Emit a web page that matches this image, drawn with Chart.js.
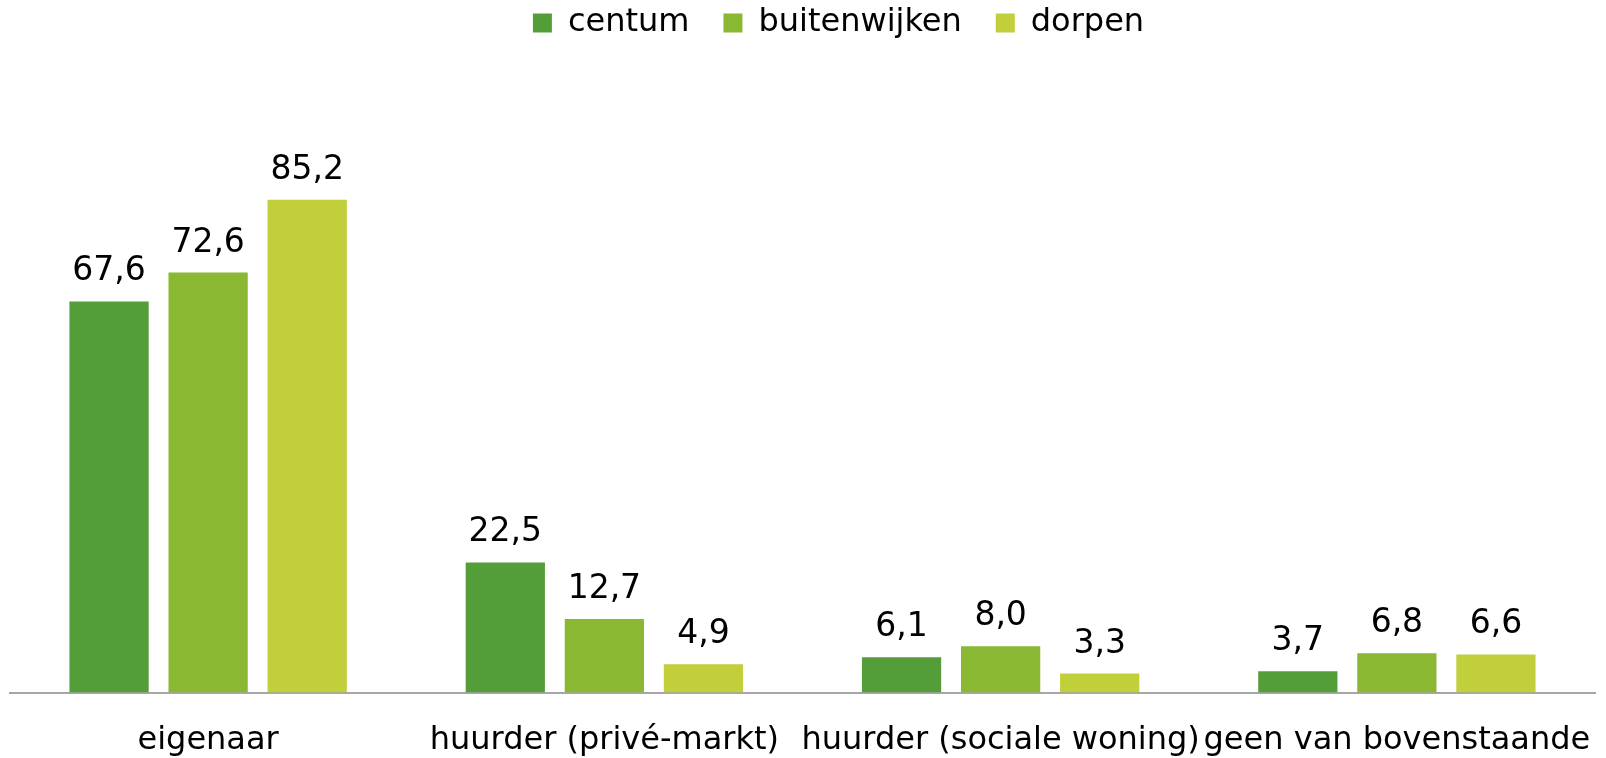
<!DOCTYPE html>
<html>
<head>
<meta charset="utf-8">
<script src="https://cdn.jsdelivr.net/npm/chart.js@4.4.0/dist/chart.umd.min.js"></script>
<style>
  html, body { margin: 0; padding: 0; background: #fff; overflow: hidden; }
  #wrap { position: absolute; left: 0; top: -27px; width: 1606px; height: 819px; }
</style>
</head>
<body>
<div id="wrap"><canvas id="grafiek"></canvas></div>
<script>
// categorieen en reeksen
const categorieen = ['eigenaar', 'huurder (privé-markt)', 'huurder (sociale woning)', 'geen van bovenstaande'];
const centum = [67.6, 22.5, 6.1, 3.7];
const buitenwijken = [72.6, 12.7, 8.0, 6.8];
const dorpen = [85.2, 4.9, 3.3, 6.6];

const lettertype = '"DejaVu Sans", sans-serif';

// waarden boven de staven tekenen (met komma)
const waardeLabels = {
    id: 'waardeLabels',
    afterDatasetsDraw(chart) {
        const ctx = chart.ctx;
        ctx.save();
        ctx.font = '33px ' + lettertype;
        ctx.fillStyle = '#000';
        ctx.textAlign = 'center';
        ctx.textBaseline = 'alphabetic';
        chart.data.datasets.forEach((ds, i) => {
            chart.getDatasetMeta(i).data.forEach((bar, j) => {
                ctx.fillText(ds.data[j].toFixed(1).replace('.', ','), bar.x, bar.y - 21);
            });
        });
        ctx.restore();
    }
};

// extra ruimte onder de legenda, en legenda iets naar rechts
const legendaRuimte = {
    id: 'legendaRuimte',
    beforeInit(chart) {
        const origFit = chart.legend.fit;
        chart.legend.fit = function () {
            origFit.call(this);
            this.height += 65;
        };
    },
    afterLayout(chart) {
        chart.legend.left += 36;
        chart.legend.right += 36;
    }
};

new Chart(document.getElementById('grafiek'), {
    type: 'bar',
    data: {
        labels: categorieen,
        datasets: [
            { label: 'centum', data: centum, backgroundColor: '#549e39' },
            { label: 'buitenwijken', data: buitenwijken, backgroundColor: '#8ab833' },
            { label: 'dorpen', data: dorpen, backgroundColor: '#c0cf3a' }
        ]
    },
    options: {
        responsive: true,
        maintainAspectRatio: false,
        animation: false,
        categoryPercentage: 0.75,
        barPercentage: 0.8,
        layout: { padding: { left: 10, right: 11, top: 0, bottom: 3 } },
        plugins: {
            tooltip: { enabled: false },
            legend: {
                position: 'top',
                labels: {
                    boxWidth: 19,
                    boxHeight: 19,
                    padding: 34,
                    color: '#000',
                    font: { family: lettertype, size: 32 }
                }
            }
        },
        scales: {
            x: {
                grid: { display: false, drawTicks: false },
                border: { display: true, color: '#a6a6a6', width: 2 },
                ticks: {
                    color: '#000',
                    padding: 29,
                    maxRotation: 0,
                    autoSkip: false,
                    font: { family: lettertype, size: 32 }
                },
                // labels mogen tot de rand lopen
                afterFit(scale) {
                    scale.paddingLeft = 0;
                    scale.paddingRight = 0;
                }
            },
            y: {
                display: false,
                min: 0,
                max: 100
            }
        }
    },
    plugins: [waardeLabels, legendaRuimte]
});
</script>
</body>
</html>
